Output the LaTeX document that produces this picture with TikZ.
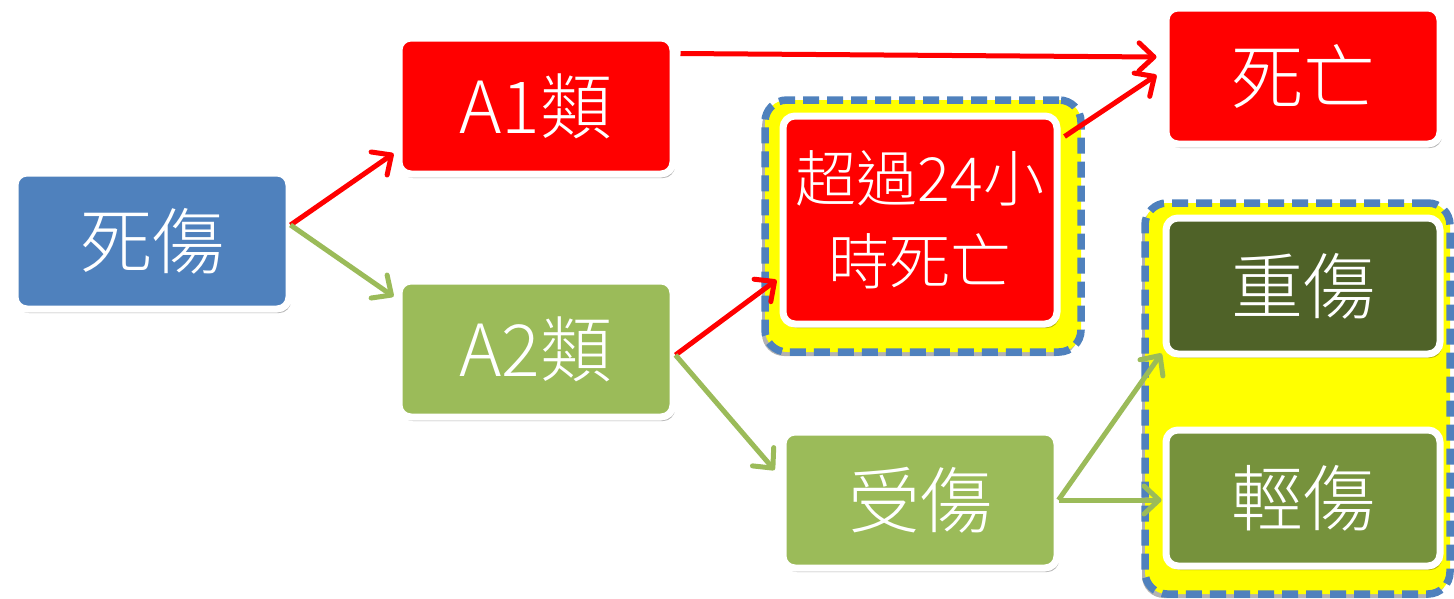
\documentclass[tikz,border=0pt]{standalone}
\usepackage{fontspec}
\IfFontExistsTF{Noto Sans CJK TC Light}
  {\newfontfamily\cjk{Noto Sans CJK TC Light}}
  {\newfontfamily\cjk{Noto Sans CJK TC}}
\usetikzlibrary{arrows.meta,calc,shadows}
\definecolor{cblue}{HTML}{4F81BD}
\definecolor{cred}{HTML}{FF0000}
\definecolor{cgreen}{HTML}{9BBB59}
\definecolor{cdark}{HTML}{4F6228}
\definecolor{colive}{HTML}{76923C}
\definecolor{cyellow}{HTML}{FFFF00}
\tikzset{
  box/.style={draw=white, line width=7pt, rounded corners=12pt, text=white,
    minimum width=274pt, minimum height=136pt, inner sep=0pt, align=center,
    font=\cjk\fontsize{72}{80}\selectfont,
    drop shadow={shadow xshift=2pt, shadow yshift=-4pt, opacity=0.3, fill=black}},
  group/.style={draw=cblue, fill=cyellow, line width=7.5pt, dash pattern=on 16pt off 8pt,
    rounded corners=22pt, inner sep=0pt,
    drop shadow={shadow xshift=-3pt, shadow yshift=-4pt, opacity=0.3, fill=black}},
  conn/.style={line width=5pt, -{Straight Barb[length=15pt,width=28pt,round]}},
  redc/.style={conn, draw=cred},
  grnc/.style={conn, draw=cgreen},
}
\begin{document}
\begin{tikzpicture}[x=1pt,y=-1pt]
\useasboundingbox (0,0) rectangle (1454,598);
% groups
\node[group, minimum width=316pt, minimum height=252pt] (g1) at (923,226) {};
\node[group, minimum width=305pt, minimum height=391pt] (g2) at (1297.5,398.5) {};
% nodes
\node[box, fill=cblue] (s) at (152,241) {死傷};
\node[box, fill=cred] (a1) at (536,106) {A1類};
\node[box, fill=cred] (d) at (1303,76) {死亡};
\node[box, fill=cgreen] (a2) at (536,349) {A2類};
\node[box, fill=cred, minimum height=208pt, font=\cjk\fontsize{61}{83}\selectfont] (o) at (920,220) {超過24小\\時死亡};
\node[box, fill=cdark] (h) at (1303,286) {重傷};
\node[box, fill=colive] (l) at (1303,498) {輕傷};
\node[box, fill=cgreen] (i) at (920,500) {受傷};
% connectors
\draw[redc] ($(s.east)+(-2,-16)$) -- ($(a1.south west)+(-2,-24)$);
\draw[grnc] ($(s.east)+(-2,-16)$) -- ($(a2.north west)+(-2,19)$);
\draw[redc] ($(a1.north east)+(4,19)$) -- ($(d.west)+(-6,-19)$);
\draw[redc] ($(a2.east)+(-1,6)$) -- ($(o.west)+(-3,60)$);
\draw[grnc] ($(a2.east)+(-1,6)$) -- ($(i.west)+(-5,-30)$);
\draw[redc] ($(o.north east)+(4,24)$) -- ($(d.west)+(-6,-1)$);
\draw[grnc] ($(i.east)+(-2,0)$) -- ($(h.south west)+(-1,-4)$);
\draw[grnc] ($(i.east)+(-2,0)$) -- ($(l.west)+(-1,2)$);
\end{tikzpicture}
\end{document}
